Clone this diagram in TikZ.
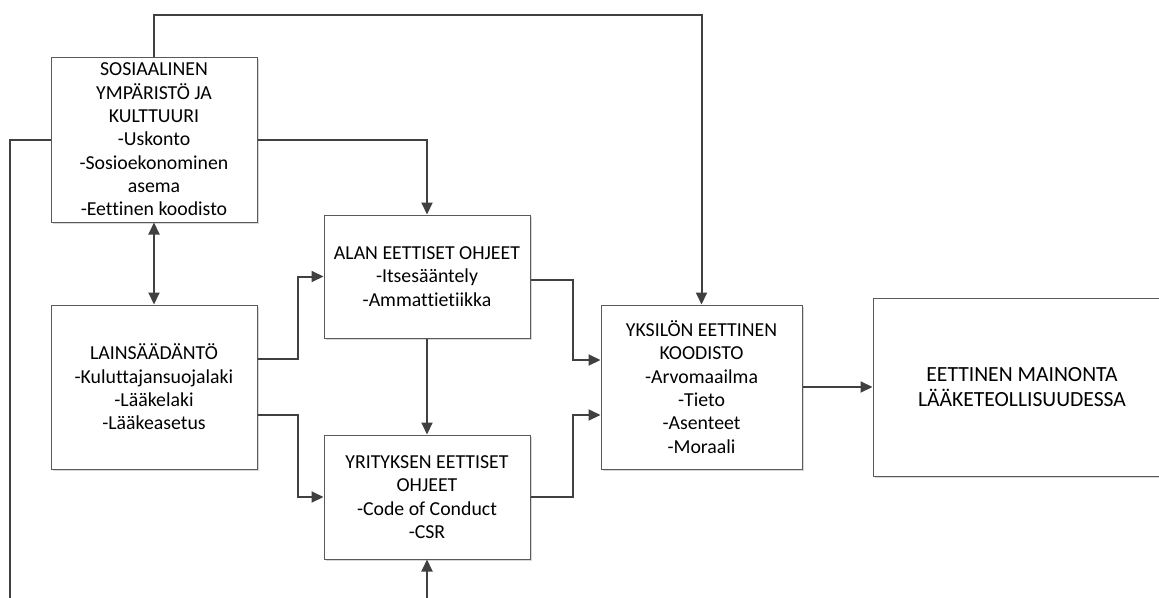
\documentclass[tikz,border=0pt]{standalone}
\usepackage{fontspec}
\setmainfont[Ligatures={NoCommon}]{Carlito}
\usetikzlibrary{arrows.meta,calc,shadows}
\definecolor{lineC}{HTML}{404040}
\definecolor{boxC}{HTML}{5A5A5A}
\tikzset{
  box/.style={draw=boxC, line width=1pt, fill=white, align=center, inner sep=0pt,
    font=\fontsize{19.8}{23.3}\selectfont,
    drop shadow={shadow xshift=1.5pt, shadow yshift=-1.5pt, fill=black!25, opacity=0.6}},
  conn/.style={draw=lineC, line width=2pt, -{Triangle[length=12pt,width=11pt]}},
  conn2/.style={draw=lineC, line width=2pt, {Triangle[length=12pt,width=11pt]}-{Triangle[length=12pt,width=11pt]}}
}
\begin{document}
\begin{tikzpicture}[x=1pt,y=-1pt]
\useasboundingbox (0,0) rectangle (1159,597);
\fill[white] (0,0) rectangle (1159,597);
\clip (0,0) rectangle (1159,597);

\node[box, minimum width=206pt, minimum height=165pt] (sos) at (154,139.5)
  {SOSIAALINEN\\YMPÄRISTÖ JA\\KULTTUURI\\-Uskonto\\-Sosioekonominen\\asema\\-Eettinen koodisto};
\node[box, minimum width=206pt, minimum height=164pt] (lains) at (154,387)
  {LAINSÄÄDÄNTÖ\\-Kuluttajansuojalaki\\-Lääkelaki\\-Lääkeasetus};
\node[box, minimum width=206pt, minimum height=123pt] (alan) at (427,276.5)
  {ALAN EETTISET OHJEET\\-Itsesääntely\\-Ammattietiikka};
\node[box, minimum width=206pt, minimum height=124pt] (yrit) at (427,497)
  {YRITYKSEN EETTISET\\OHJEET\\-Code of Conduct\\-CSR};
\node[box, minimum width=201pt, minimum height=164pt] (yks) at (701.5,387)
  {YKSILÖN EETTINEN\\KOODISTO\\-Arvomaailma\\-Tieto\\-Asenteet\\-Moraali};
\node[box, minimum width=298pt, minimum height=178pt, font=\fontsize{21.6}{25}\selectfont] (big) at (1022,387)
  {EETTINEN MAINONTA\\LÄÄKETEOLLISUUDESSA};

\draw[conn] (sos.north) -- ++(0,-42) -| (yks.north);
\draw[conn] (sos.west) -- ++(-41,0) -- ++(0,500) -| (yrit.south);
\draw[conn] (sos.east) -| (alan.north);
\draw[conn2] (sos.south) -- (lains.north);
\draw[conn] ($(lains.east)+(0,-28)$) -- ++(40,0) |- (alan.west);
\draw[conn] ($(lains.east)+(0,28)$) -- ++(40,0) |- (yrit.west);
\draw[conn] (alan.south) -- (yrit.north);
\draw[conn] ($(alan.east)+(0,3.5)$) -- ++(42,0) |- ($(yks.west)+(0,-27)$);
\draw[conn] (yrit.east) -- ++(42,0) |- ($(yks.west)+(0,28)$);
\draw[conn] (yks.east) -- (big.west);
\end{tikzpicture}
\end{document}
